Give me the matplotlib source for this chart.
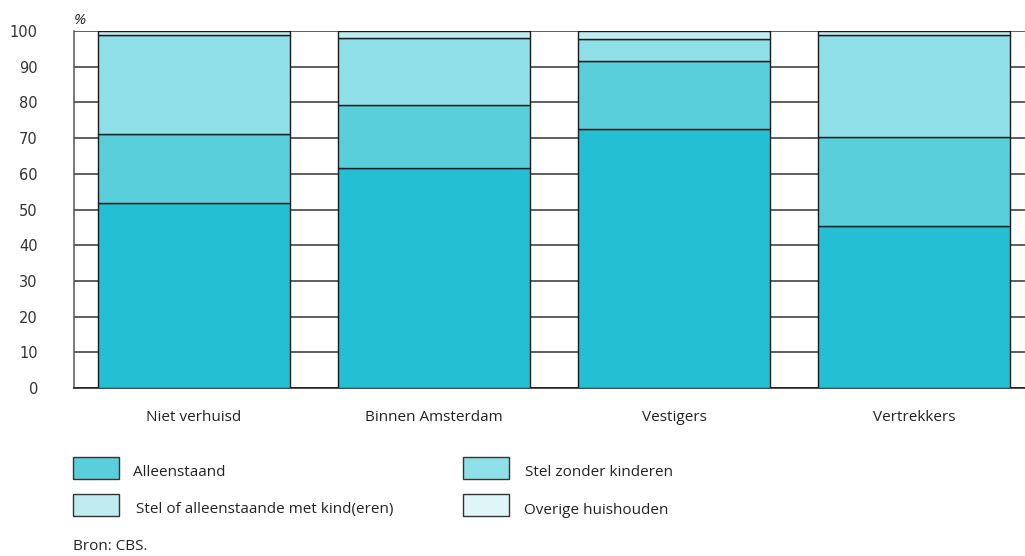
import matplotlib
matplotlib.use('Agg')
import matplotlib.pyplot as plt
import matplotlib.patches as patches
import numpy as np

plt.rc('font', family='DejaVu Sans', size=10.5)

categories = ['Niet verhuisd', 'Binnen Amsterdam', 'Vestigers', 'Vertrekkers']
series_names = ['Alleenstaand', 'Stel zonder kinderen',
                'Stel of alleenstaande met kind(eren)', 'Overige huishouden']
alleenstaand = [51.7, 61.7, 72.6, 45.4]
stel_zonder = [19.5, 17.7, 18.9, 24.8]
stel_met_kind = [27.8, 18.7, 6.3, 28.8]
overige = [1.0, 1.9, 2.2, 1.0]
yticks = np.arange(0, 101, 10)

bar_colors = ['#25bfd4', '#5acfdc', '#8edfe8', '#c0ebf0']
legend_colors = ['#5acfdc', '#8edfe8', '#c0ebf0', '#e0f5f8']

W, H = 1025, 556
fig = plt.figure(figsize=(W / 100, H / 100), dpi=100)
ax = fig.add_axes([74 / W, 1 - 388 / H, (W - 74) / W, (388 - 31) / H])

x = np.arange(len(categories))
bottom = np.zeros(len(categories))
for vals, col in zip([alleenstaand, stel_zonder, stel_met_kind, overige], bar_colors):
    ax.bar(x, vals, width=0.8, bottom=bottom, color=col, edgecolor='#1a1a1a',
           linewidth=1.0, zorder=3)
    bottom += np.array(vals)

ax.set_xlim(-0.5, 3.4625)
ax.set_ylim(0, 100)
ax.set_yticks(yticks)
ax.yaxis.grid(True, color='#333333', linewidth=1.1, zorder=0)
ax.set_axisbelow(True)
ax.set_xticks(x)
ax.set_xticklabels(categories, family='Open Sans', fontsize=11)
ax.tick_params(axis='y', length=0, pad=26, labelcolor='#333333', labelsize=10.5)
ax.tick_params(axis='x', length=0, pad=16, labelcolor='#222222')
for s in ['top', 'right']:
    ax.spines[s].set_visible(False)
ax.spines['left'].set_color('#555555')
ax.spines['bottom'].set_color('#1a1a1a')
ax.spines['left'].set_linewidth(1.1)
ax.spines['bottom'].set_linewidth(1.1)

fig.text(74 / W, 1 - 20 / H, '%', fontsize=11, ha='left', va='center',
         family='Open Sans', style='italic', color='#222222')

# legend drawn by hand in pixel positions
legend_pos = [(73, 457, 133), (463, 457, 525), (73, 494, 136), (463, 494, 524)]
for (px, py, tx), name, col in zip(legend_pos, series_names, legend_colors):
    rect = patches.Rectangle((px / W, 1 - (py + 22) / H), 46 / W, 22 / H,
                             transform=fig.transFigure, facecolor=col,
                             edgecolor='#333333', linewidth=1.0)
    fig.add_artist(rect)
    fig.text(tx / W, 1 - (py + 16) / H, name, fontsize=11, ha='left',
             va='center', family='Open Sans', color='#222222')

fig.text(73 / W, 1 - 547 / H, 'Bron: CBS.', fontsize=11, ha='left',
         va='center', family='Open Sans', color='#222222')

plt.savefig('out.png', dpi=100)
